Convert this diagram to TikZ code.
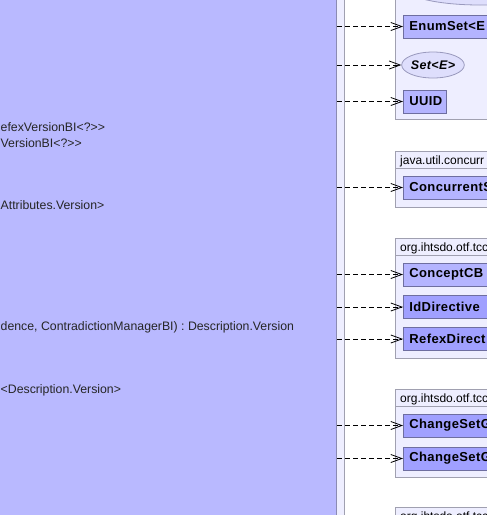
\documentclass[tikz,border=0pt]{standalone}
\usepackage{fontspec}
\setmainfont{Liberation Sans}[Ligatures=ResetAll]
\newfontfamily\clsfont[LetterSpace=3, Ligatures=ResetAll]{Liberation Sans}
\usepackage{tikz}
\usetikzlibrary{shapes.geometric, arrows.meta, positioning, calc}
\definecolor{umlmain}{RGB}{185,185,255}
\definecolor{umlcls}{RGB}{180,180,255}
\definecolor{umlenum}{RGB}{160,160,255}
\definecolor{umlifc}{RGB}{222,222,252}
\definecolor{umlpkg}{RGB}{238,238,255}
\definecolor{umlpkgline}{RGB}{160,160,176}
\definecolor{umlclsline}{RGB}{110,110,160}

\begin{document}
\begin{tikzpicture}[x=1pt, y=-1pt,
  every node/.style={font=\fontsize{12}{14}\selectfont, inner sep=0pt},
  pkg/.style={rectangle, draw=umlpkgline, fill=umlpkg, line width=0.8pt,
              anchor=north west, minimum width=230},
  pkghead/.style={rectangle, anchor=north west, minimum height=17,
                  text depth=0pt, align=left, text width=220, inner xsep=5pt},
  cls/.style={rectangle, draw=umlclsline, fill=umlcls, line width=0.8pt,
              anchor=west, minimum height=23, text width=150, align=left,
              inner xsep=6pt, font=\clsfont\fontsize{13}{15}\bfseries},
  enm/.style={cls, fill=umlenum},
  ifc/.style={ellipse, draw=umlclsline!70, fill=umlifc, line width=0.8pt,
              font=\clsfont\fontsize{12.5}{14}\bfseries\itshape},
  dep/.style={-{Straight Barb[length=11pt, width=8pt]}, line width=0.8pt,
              dash pattern=on 5pt off 3pt},
  member/.style={anchor=west, text=black!85, font=\fontsize{12.3}{14}\selectfont},
]
\useasboundingbox (0,0) rectangle (487,515);
\clip (0,0) rectangle (487,515);

% Outer package and main class
\node[pkg, anchor=north east, minimum width=500, minimum height=700] (outer) at (345,-80) {};
\node[rectangle, draw=umlclsline!80, fill=umlmain, line width=0.8pt, anchor=north east,
      minimum width=500, minimum height=700] (mainCls) at (337,-80) {};

% Members of the main class
\node[member] (m1) at (0.5,127) {efexVersionBI<?>\kern0pt>};
\node[member] (m2) at (0.5,143) {VersionBI<?>\kern0pt>};
\node[member] (m3) at (0.5,205) {Attributes.Version>};
\node[member] (m4) at (0.5,327) {dence, ContradictionManagerBI) : Description.Version};
\node[member] (m5) at (0.5,390) {<Description.Version>};

% Package A (top)
\node[pkg, minimum height=180] (pkgA) at (395,-61) {};
\node[ifc, minimum width=150, minimum height=34] (topIfc) at (480,-12) {};
\node[cls] (enumSet) at (403,26.5) {EnumSet<E};
\node[ifc, minimum width=60, minimum height=26] (setE) at (433,65) {Set<E>};
\node[cls, text width=31] (uuid) at (403,101.5) {UUID};

% Package B
\node[pkg, minimum height=56] (pkgB) at (395,151) {};
\node[pkghead] (pkgBhead) at (pkgB.north west) {java.util.concurr};
\draw[umlpkgline, line width=0.8pt] (pkgBhead.south west) -- (pkgBhead.south west -| pkgB.east);
\node[cls] (concSet) at (403,187.5) {ConcurrentS};

% Package C
\node[pkg, minimum height=120] (pkgC) at (395,238) {};
\node[pkghead] (pkgChead) at (pkgC.north west) {org.ihtsdo.otf.tcc};
\draw[umlpkgline, line width=0.8pt] (pkgChead.south west) -- (pkgChead.south west -| pkgC.east);
\node[cls] (conceptCB) at (403,274.5) {ConceptCB};
\node[enm] (idDir) at (403,307) {IdDirective};
\node[enm] (refexDir) at (403,339) {RefexDirect};

% Package D
\node[pkg, minimum height=88] (pkgD) at (395,389) {};
\node[pkghead] (pkgDhead) at (pkgD.north west) {org.ihtsdo.otf.tcc};
\draw[umlpkgline, line width=0.8pt] (pkgDhead.south west) -- (pkgDhead.south west -| pkgD.east);
\node[enm] (csPolicy) at (403,425.5) {ChangeSetG};
\node[enm] (csThread) at (403,458.5) {ChangeSetG};

% Package E (bottom)
\node[pkg, minimum height=100] (pkgE) at (395,507) {};
\node[pkghead] (pkgEhead) at (pkgE.north west) {org.ihtsdo.otf.tcc};

% Dependencies
\foreach \target in {enumSet, setE, uuid, concSet, conceptCB, idDir, refexDir, csPolicy, csThread}
  \draw[dep] (\target.west -| mainCls.east) -- (\target.west);

\end{tikzpicture}
\end{document}
